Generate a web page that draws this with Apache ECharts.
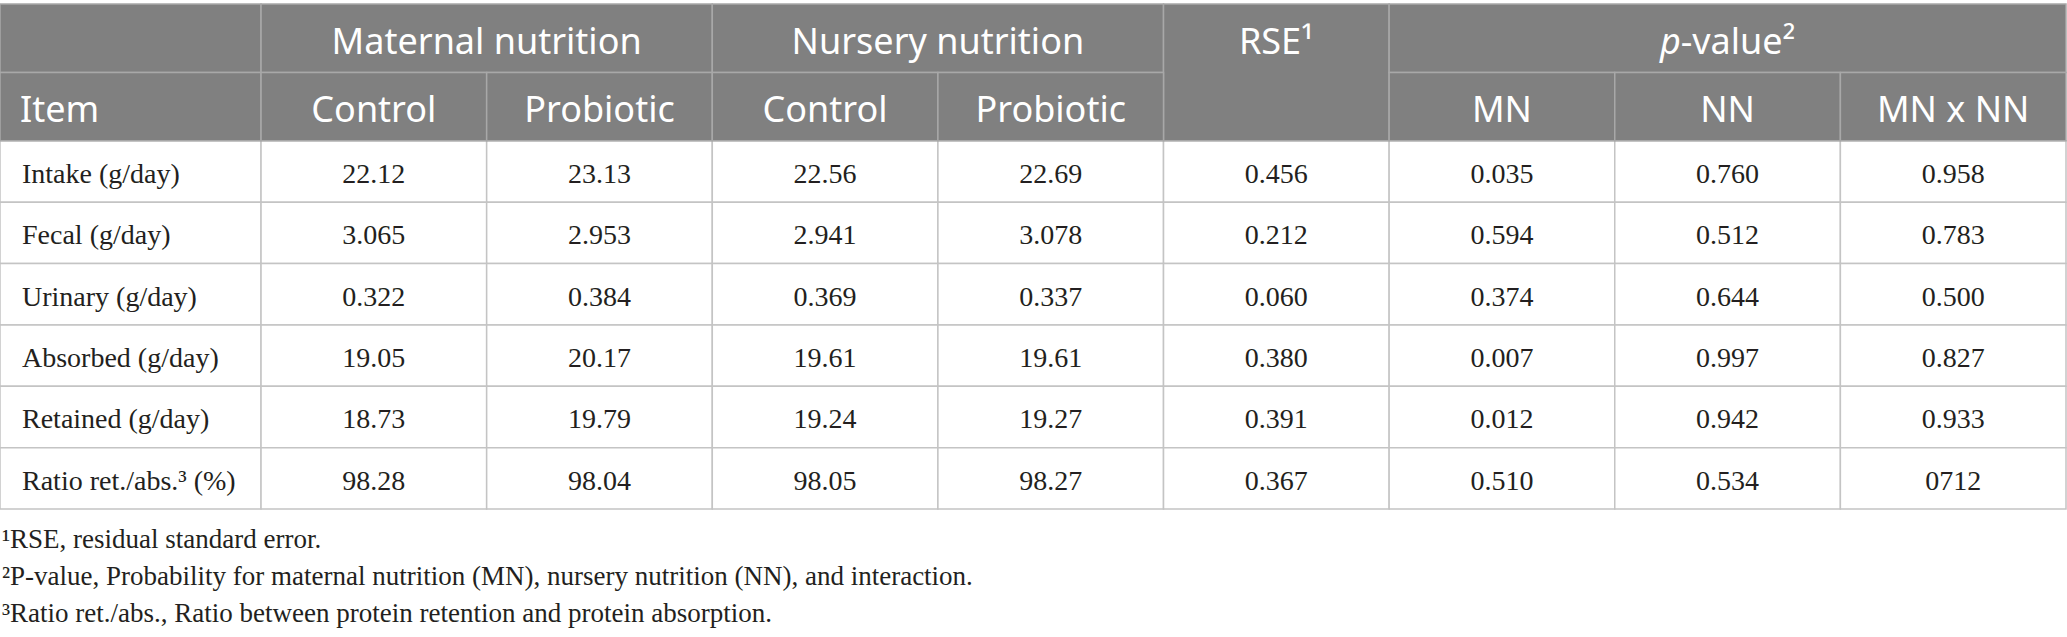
<!DOCTYPE html>
<html>
<head>
<meta charset="utf-8">
<script src="https://cdn.jsdelivr.net/npm/echarts@6/dist/echarts.min.js"></script>
<style>
html,body{margin:0;padding:0;background:#ffffff;}
#chart{width:2067px;height:637px;}
</style>
</head>
<body>
<div id="chart"></div>
<script>
// ---------------- data ----------------
const items = ['Intake (g/day)', 'Fecal (g/day)', 'Urinary (g/day)', 'Absorbed (g/day)', 'Retained (g/day)', 'Ratio ret./abs.\u00b3 (%)'];
const mnControl   = ['22.12', '3.065', '0.322', '19.05', '18.73', '98.28'];
const mnProbiotic = ['23.13', '2.953', '0.384', '20.17', '19.79', '98.04'];
const nnControl   = ['22.56', '2.941', '0.369', '19.61', '19.24', '98.05'];
const nnProbiotic = ['22.69', '3.078', '0.337', '19.61', '19.27', '98.27'];
const rse         = ['0.456', '0.212', '0.060', '0.380', '0.391', '0.367'];
const pMN         = ['0.035', '0.594', '0.374', '0.007', '0.012', '0.510'];
const pNN         = ['0.760', '0.512', '0.644', '0.997', '0.942', '0.534'];
const pMNxNN      = ['0.958', '0.783', '0.500', '0.827', '0.933', '0712'];
const groupHeaders = ['Maternal nutrition', 'Nursery nutrition', 'RSE\u00b9', '{i|p}{n|-value\u00b2}'];
const subHeaders = ['Item', 'Control', 'Probiotic', 'Control', 'Probiotic', 'MN', 'NN', 'MN x NN'];
const footnotes = [
  '\u00b9RSE, residual standard error.',
  '\u00b2P-value, Probability for maternal nutrition (MN), nursery nutrition (NN), and interaction.',
  '\u00b3Ratio ret./abs., Ratio between protein retention and protein absorption.'
];

// ---------------- layout (relative units) ----------------
const colUnits = [1.157, 1, 1, 1, 1, 1, 1, 1, 1];
const rowUnits = [1.115, 1.115, 1, 1, 1, 1, 1, 1];
const colEdges = [0]; colUnits.forEach(u => colEdges.push(colEdges[colEdges.length - 1] + u));
const rowEdges = [0]; rowUnits.forEach(u => rowEdges.push(rowEdges[rowEdges.length - 1] + u));

const HEAD_FILL = '#808080', HEAD_LINE = '#a8a8a8', BODY_LINE = '#c4c4c4', TEXT = '#231f20';
const SANS = '"Noto Sans", sans-serif', SERIF = '"Liberation Serif", "Times New Roman", serif';

const cells = [];
function addCell(c0, c1, r0, r1, text, header, align) {
  cells.push({
    x0: colEdges[c0], x1: colEdges[c1], y0: rowEdges[r0], y1: rowEdges[r1],
    tx: align === 'left' ? colEdges[c0] : (colEdges[c0] + colEdges[c1]) / 2,
    ty: (rowEdges[r0] + rowEdges[r0 + 1]) / 2,
    text: text, header: header, align: align || 'center'
  });
}
// body
const bodyCols = [mnControl, mnProbiotic, nnControl, nnProbiotic, rse, pMN, pNN, pMNxNN];
items.forEach((name, i) => {
  addCell(0, 1, i + 2, i + 3, name, false, 'left');
  bodyCols.forEach((col, j) => addCell(j + 1, j + 2, i + 2, i + 3, col[i], false));
});
// header row 1
addCell(0, 1, 0, 1, '', true);
addCell(1, 3, 0, 1, groupHeaders[0], true);
addCell(3, 5, 0, 1, groupHeaders[1], true);
addCell(5, 6, 0, 2, groupHeaders[2], true);
addCell(6, 9, 0, 1, groupHeaders[3], true);
// header row 2
addCell(0, 1, 1, 2, subHeaders[0], true, 'left');
[1, 2, 3, 4].forEach((c, k) => addCell(c, c + 1, 1, 2, subHeaders[k + 1], true));
[6, 7, 8].forEach((c, k) => addCell(c, c + 1, 1, 2, subHeaders[k + 5], true));

const chart = echarts.init(document.getElementById('chart'), null, { renderer: 'svg' });

function renderItem(params, api) {
  const c = cells[params.dataIndex];
  const p0 = api.coord([api.value(0), api.value(1)]);
  const p1 = api.coord([api.value(2), api.value(3)]);
  const x = Math.min(p0[0], p1[0]), y = Math.min(p0[1], p1[1]);
  const w = Math.abs(p1[0] - p0[0]), h = Math.abs(p1[1] - p0[1]);
  const children = [{
    type: 'rect',
    shape: { x: x, y: y, width: w, height: h },
    style: { fill: c.header ? HEAD_FILL : '#ffffff', stroke: c.header ? HEAD_LINE : BODY_LINE, lineWidth: 1.5 }
  }];
  if (c.text) {
    const t = api.coord([c.tx, c.ty]);
    const fs = c.header ? 36 : 28;
    const ff = c.header ? SANS : SERIF;
    const style = {
      text: c.text,
      x: c.align === 'left' ? t[0] + (c.header ? 20 : 22) : t[0],
      y: t[1] + 2,
      fill: c.header ? '#ffffff' : TEXT,
      fontSize: fs, fontFamily: ff,
      align: c.align, verticalAlign: 'middle'
    };
    if (c.text.indexOf('{') >= 0) {
      style.rich = {
        i: { fontStyle: 'italic', fontSize: fs, fontFamily: ff, fill: '#ffffff', color: '#ffffff' },
        n: { fontStyle: 'normal', fontSize: fs, fontFamily: ff, fill: '#ffffff', color: '#ffffff' }
      };
    }
    children.push({ type: 'text', style: style });
  }
  return { type: 'group', children: children };
}

const footGraphics = footnotes.map((f, i) => ({
  type: 'text', left: 2, top: 525.5 + i * 37,
  style: { text: f, fill: TEXT, fontSize: 27, fontFamily: SERIF }
}));

chart.setOption({
  animation: false,
  backgroundColor: '#ffffff',
  grid: { left: 0, top: 4, width: 2066, height: 505 },
  xAxis: { type: 'value', min: 0, max: colEdges[colEdges.length - 1], show: false },
  yAxis: { type: 'value', min: 0, max: rowEdges[rowEdges.length - 1], inverse: true, show: false },
  series: [{
    type: 'custom',
    coordinateSystem: 'cartesian2d',
    renderItem: renderItem,
    encode: { x: [0, 2], y: [1, 3] },
    data: cells.map(c => [c.x0, c.y0, c.x1, c.y1]),
    silent: true
  }],
  graphic: footGraphics
});
</script>
</body>
</html>
